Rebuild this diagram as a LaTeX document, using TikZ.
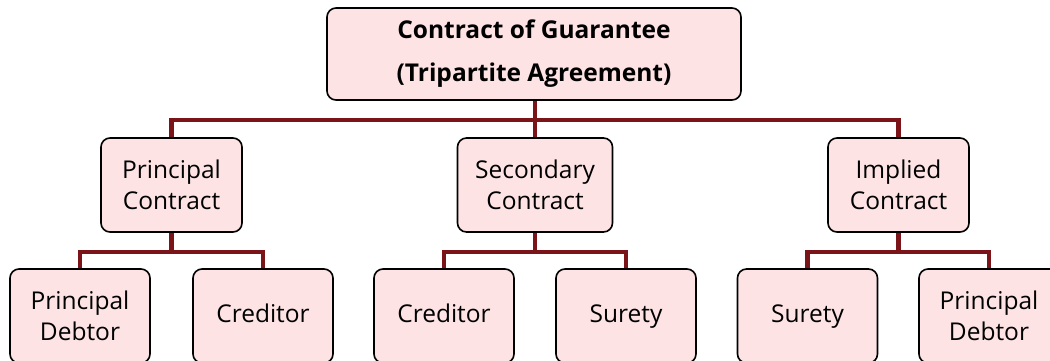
\documentclass[tikz,border=0pt]{standalone}
\usepackage{fontspec}
\setmainfont{Open Sans}
\usepackage{tikz}
\usetikzlibrary{positioning}
\definecolor{boxfill}{HTML}{FDE3E4}
\definecolor{linkred}{HTML}{7A1418}

\begin{document}
\begin{tikzpicture}[x=1pt,y=1pt,
    box/.style={draw=black,line width=1.6pt,fill=boxfill,rounded corners=9pt,
        align=center,inner sep=0pt,font=\fontsize{24.5}{31}\selectfont},
    midbox/.style={box,minimum width=141pt,minimum height=94pt},
    leafbox/.style={box,minimum width=140pt,minimum height=94pt},
    link/.style={draw=linkred,line width=4.5pt}]
\useasboundingbox (0,0) rectangle (1050,-360);
\begin{scope}
\clip (0,0) rectangle (1050,-360);
% top
\node[box,minimum width=414pt,minimum height=92pt,font=\fontsize{24.5}{43}\selectfont\bfseries] (top) at (534,-54) {Contract of Guarantee\\(Tripartite Agreement)};
% middle row
\node[midbox] (pc) at (171.5,-185) {Principal\\Contract};
\node[midbox,minimum width=155pt] (sc) at (535,-185) {Secondary\\Contract};
\node[midbox] (ic) at (898.5,-185) {Implied\\Contract};
% bottom row
\node[leafbox] (pd1) at (80,-316) {Principal\\Debtor};
\node[leafbox] (cr1) at (263,-316) {\strut Creditor};
\node[leafbox] (cr2) at (444,-316) {\strut Creditor};
\node[leafbox] (su1) at (626,-316) {\strut Surety};
\node[leafbox] (su2) at (807.5,-316) {\strut Surety};
\node[leafbox] (pd2) at (989,-316) {Principal\\Debtor};
% connectors
\coordinate (bus) at (535,-120);
\draw[link] (top.south -| bus) -- (bus) -| (pc.north);
\draw[link] (bus) -- (sc.north);
\draw[link] (bus) -| (ic.north);
\foreach \p/\l/\r in {pc/pd1/cr1,sc/cr2/su1,ic/su2/pd2}{
  \draw[link] (\p.south) -- ++(0,-19) -| (\l.north);
  \draw[link] (\p.south) -- ++(0,-19) -| (\r.north);
}
\end{scope}
\end{tikzpicture}
\end{document}
